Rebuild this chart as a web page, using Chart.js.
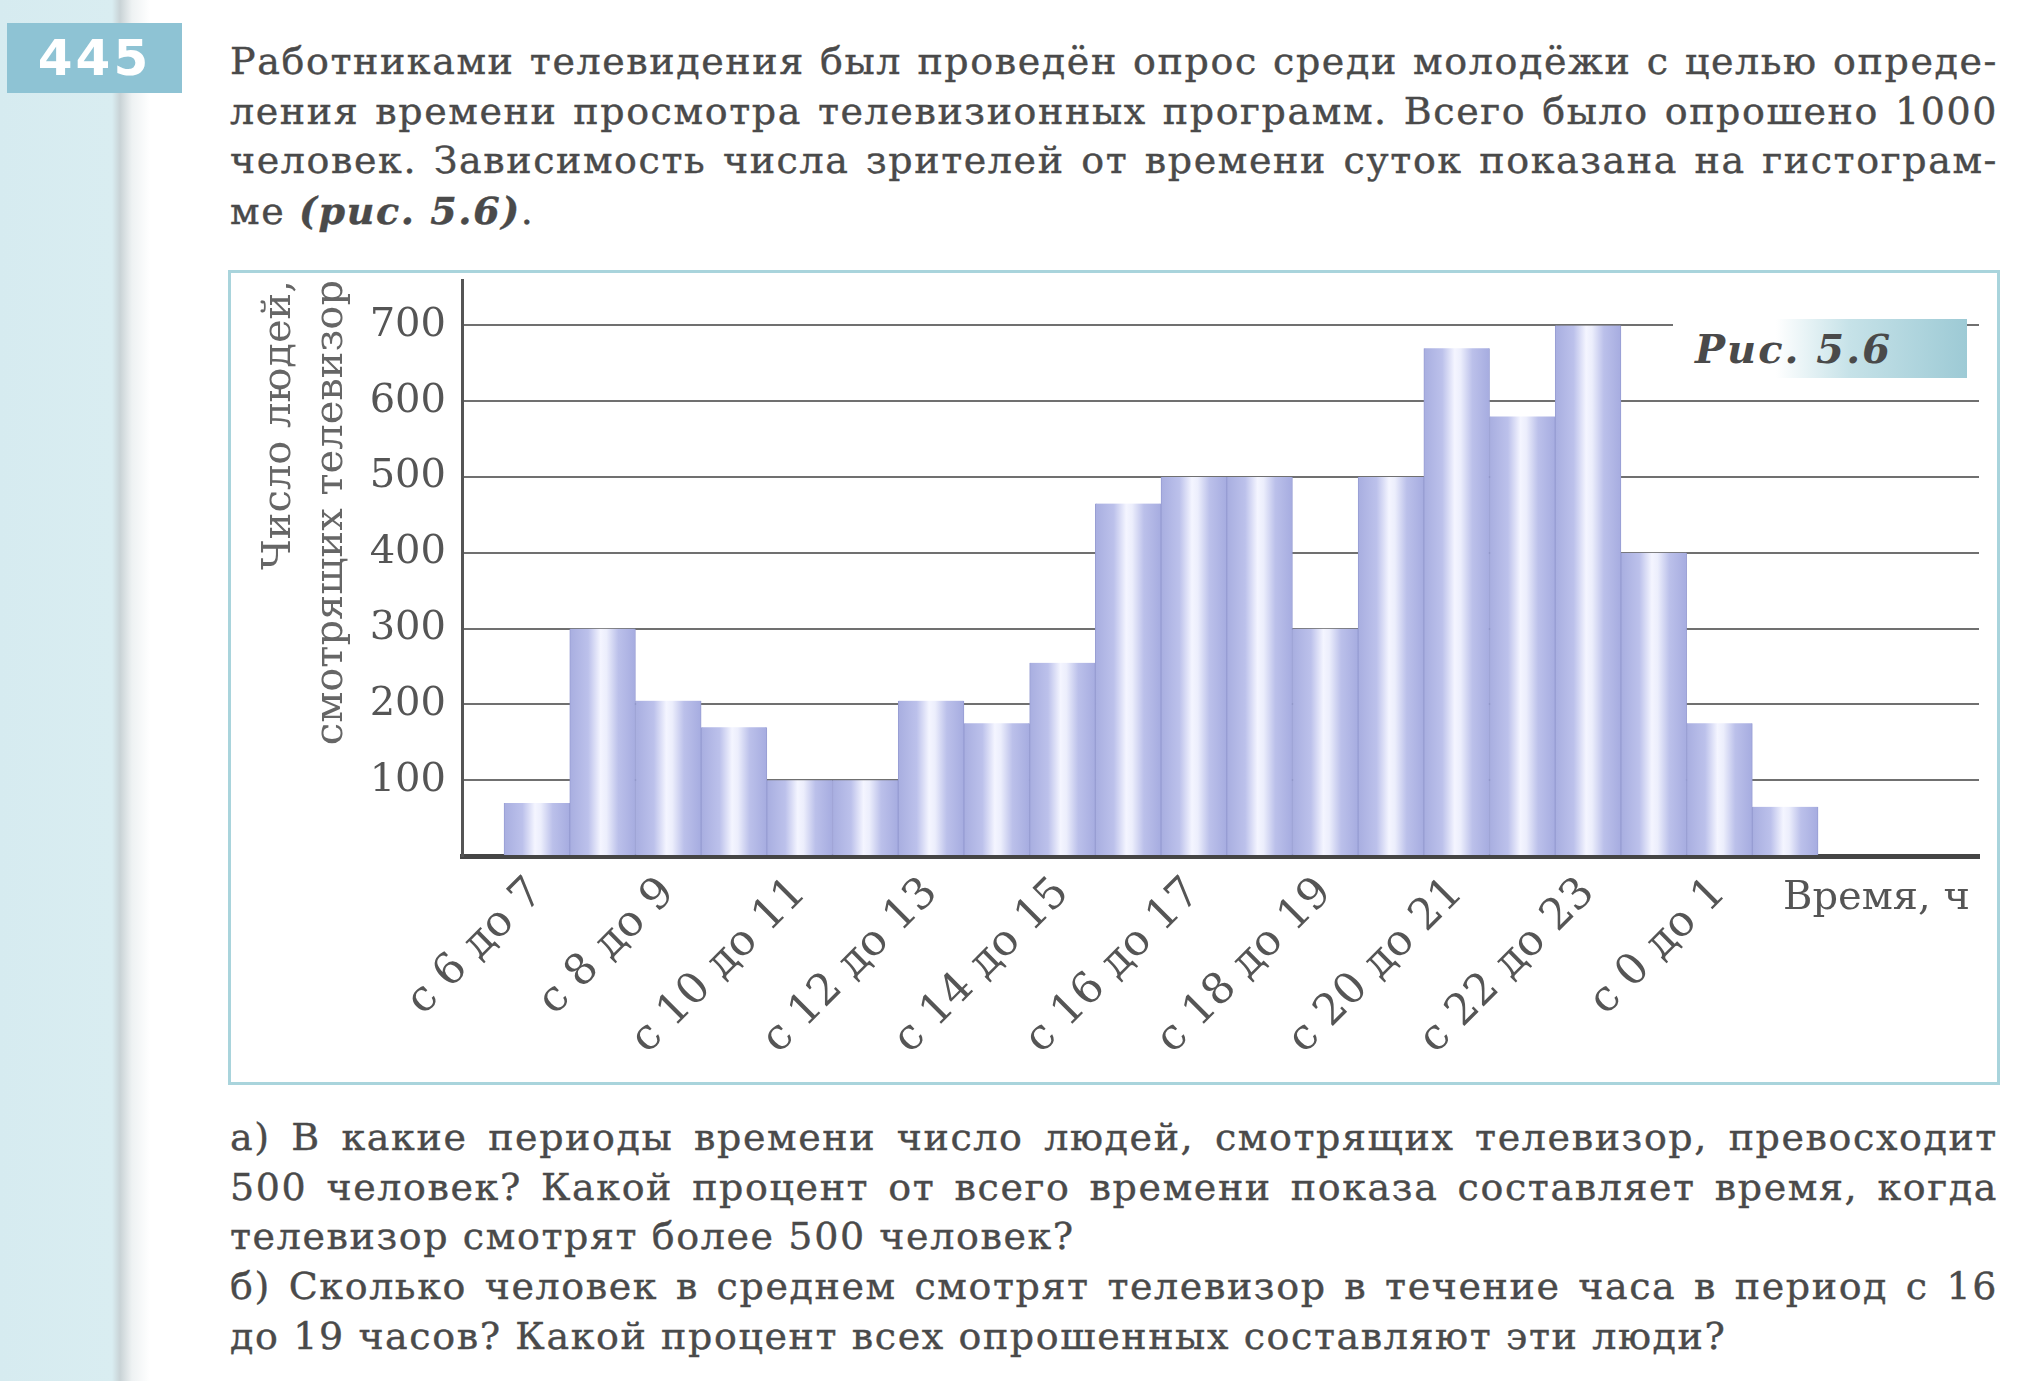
<!DOCTYPE html>
<html lang="ru">
<head>
<meta charset="utf-8">
<title>Рис. 5.6</title>
<script src="https://cdn.jsdelivr.net/npm/chart.js@4.4.1/dist/chart.umd.min.js"></script>
<style>
  html, body { margin: 0; padding: 0; }
  body {
    width: 2041px; height: 1381px; position: relative; overflow: hidden;
    background: linear-gradient(to right, #d6ebf0 0px, #d9edf1 112px, #c9d3d6 120px, #eef2f3 132px, #ffffff 150px);
    font-family: "DejaVu Serif", serif; color: #4a4a4a;
  }
  .badge {
    position: absolute; left: 7px; top: 23px; width: 175px; height: 70px;
    background: #8ec3d4; color: #fff; font: bold 50px "DejaVu Sans", sans-serif;
    letter-spacing: 3px; line-height: 70px; text-align: center;
  }
  .txt { position: absolute; left: 230px; width: 1768px; font-size: 38px; letter-spacing: 1.6px; line-height: 49.7px; -webkit-text-stroke: 0.4px #4a4a4a; }
  .txt div { white-space: nowrap; }
  .txt .j { text-align: justify; text-align-last: justify; white-space: normal; }
  .bi { font-weight: bold; font-style: italic; }
  #frame { position: absolute; left: 228px; top: 270px; width: 1772px; height: 815px; box-sizing: border-box; border: 3px solid #a9d4dc; pointer-events: none; }
  #wrap { position: absolute; left: 230px; top: 272px; width: 1768px; height: 811px; }
  .fig {
    position: absolute; left: 1673px; top: 319px; width: 294px; height: 59px;
    background: linear-gradient(to right, #ffffff 0%, #ffffff 35%, #c6e2e8 60%, #9dcad5 100%);
  }
  .fig span { position: absolute; left: 22px; top: 6px; font: bold italic 40px "DejaVu Serif", serif; letter-spacing: 2px; color: #4a4a4a; }
  .unit { position: absolute; left: 1783px; top: 872px; font-size: 40px; color: #555; }
</style>
</head>
<body>
<div class="badge">445</div>

<div class="txt" style="top:37px">
  <div class="j">Работниками телевидения был проведён опрос среди молодёжи с целью опреде-</div>
  <div class="j">ления времени просмотра телевизионных программ. Всего было опрошено 1000</div>
  <div class="j">человек. Зависимость числа зрителей от времени суток показана на гистограм-</div>
  <div>ме <span class="bi">(рис. 5.6)</span>.</div>
</div>

<div id="wrap"><canvas id="graphique" width="1768" height="811"></canvas></div>
<div id="frame"></div>
<div class="fig"><span>Рис. 5.6</span></div>
<div class="unit">Время, ч</div>

<div class="txt" style="top:1113px">
  <div class="j">а) В какие периоды времени число людей, смотрящих телевизор, превосходит</div>
  <div class="j">500 человек? Какой процент от всего времени показа составляет время, когда</div>
  <div>телевизор смотрят более 500 человек?</div>
  <div class="j">б) Сколько человек в среднем смотрят телевизор в течение часа в период с 16</div>
  <div>до 19 часов? Какой процент всех опрошенных составляют эти люди?</div>
</div>

<script>
// часы начала каждого часового интервала (с 6 до 2 ночи)
const heuresDebut = [6, 7, 8, 9, 10, 11, 12, 13, 14, 15, 16, 17, 18, 19, 20, 21, 22, 23, 0, 1];
// число зрителей в каждом интервале
const spectateurs = [70, 300, 205, 170, 100, 100, 205, 175, 255, 465, 500, 500, 300, 500, 670, 580, 700, 400, 175, 65];
// подписи под каждым вторым столбцом
const etiquettesX = ["с 6 до 7", "с 8 до 9", "с 10 до 11", "с 12 до 13", "с 14 до 15",
                     "с 16 до 17", "с 18 до 19", "с 20 до 21", "с 22 до 23", "с 0 до 1"];
const ticksY = [100, 200, 300, 400, 500, 600, 700];

const policeSerif = "'DejaVu Serif', serif";

function degradeBarre(ctx) {
  const chart = ctx.chart;
  const sx = chart.scales.x;
  if (!sx || !ctx.raw) { return "#b3b8e6"; }
  const gauche = sx.getPixelForValue(ctx.raw.x - 0.5);
  const droite = sx.getPixelForValue(ctx.raw.x + 0.5);
  if (!isFinite(gauche) || !isFinite(droite)) { return "#b3b8e6"; }
  const g = chart.ctx.createLinearGradient(gauche, 0, droite, 0);
  g.addColorStop(0, "#a8aee0");
  g.addColorStop(0.28, "#bcc1eb");
  g.addColorStop(0.47, "#f4f5ff");
  g.addColorStop(0.56, "#eceefc");
  g.addColorStop(0.74, "#bbc0ea");
  g.addColorStop(1, "#a6ace0");
  return g;
}

new Chart(document.getElementById("graphique").getContext("2d"), {
  type: "bar",
  data: {
    datasets: [{
      data: spectateurs.map(function(v, i) { return { x: i + 0.5, y: v }; }),
      backgroundColor: degradeBarre,
      borderColor: "#979dd3",
      borderWidth: { left: 1, right: 1, top: 0, bottom: 0 },
      borderSkipped: false,
      barPercentage: 1,
      categoryPercentage: 1
    }]
  },
  options: {
    responsive: false,
    animation: false,
    layout: { padding: { top: 8, right: 19, left: 0, bottom: 0 } },
    plugins: { legend: { display: false }, tooltip: { enabled: false } },
    scales: {
      x: {
        type: "linear",
        offset: false,
        min: -0.64,
        max: heuresDebut.length + 2.45,
        grid: { display: false, offset: false },
        border: { display: true, color: "#454545", width: 5 },
        afterFit: function(s) {
          s.height = 227;
          s.paddingLeft = 0; s.paddingRight = 0; s.paddingTop = 0; s.paddingBottom = 0;
        },
        afterBuildTicks: function(s) {
          s.ticks = etiquettesX.map(function(_, k) { return { value: 2 * k + 0.5 }; });
        },
        ticks: {
          autoSkip: false,
          minRotation: 45,
          maxRotation: 45,
          padding: 4,
          color: "#555",
          font: { family: policeSerif, size: 43 },
          callback: function(value, index) { return etiquettesX[index]; }
        }
      },
      y: {
        min: 0,
        max: 760,
        afterFit: function(s) {
          s.width = 232;
          s.paddingLeft = 0; s.paddingRight = 0; s.paddingTop = 0; s.paddingBottom = 0;
        },
        afterBuildTicks: function(s) {
          s.ticks = [{ value: 0 }].concat(ticksY.map(function(v) { return { value: v }; }));
        },
        grid: { color: "#707070", lineWidth: 2, drawTicks: false },
        border: { display: true, color: "#555", width: 3 },
        ticks: {
          padding: 16,
          color: "#555",
          font: { family: policeSerif, size: 40 },
          callback: function(v) { return v === 0 ? "" : String(v); }
        },
        title: {
          display: true,
          text: ["Число людей,", "смотрящих телевизор"],
          align: "end",
          color: "#666",
          font: { family: policeSerif, size: 40, lineHeight: 1.3 },
          padding: { top: 24, bottom: 0 }
        }
      }
    }
  }
});
</script>
</body>
</html>
